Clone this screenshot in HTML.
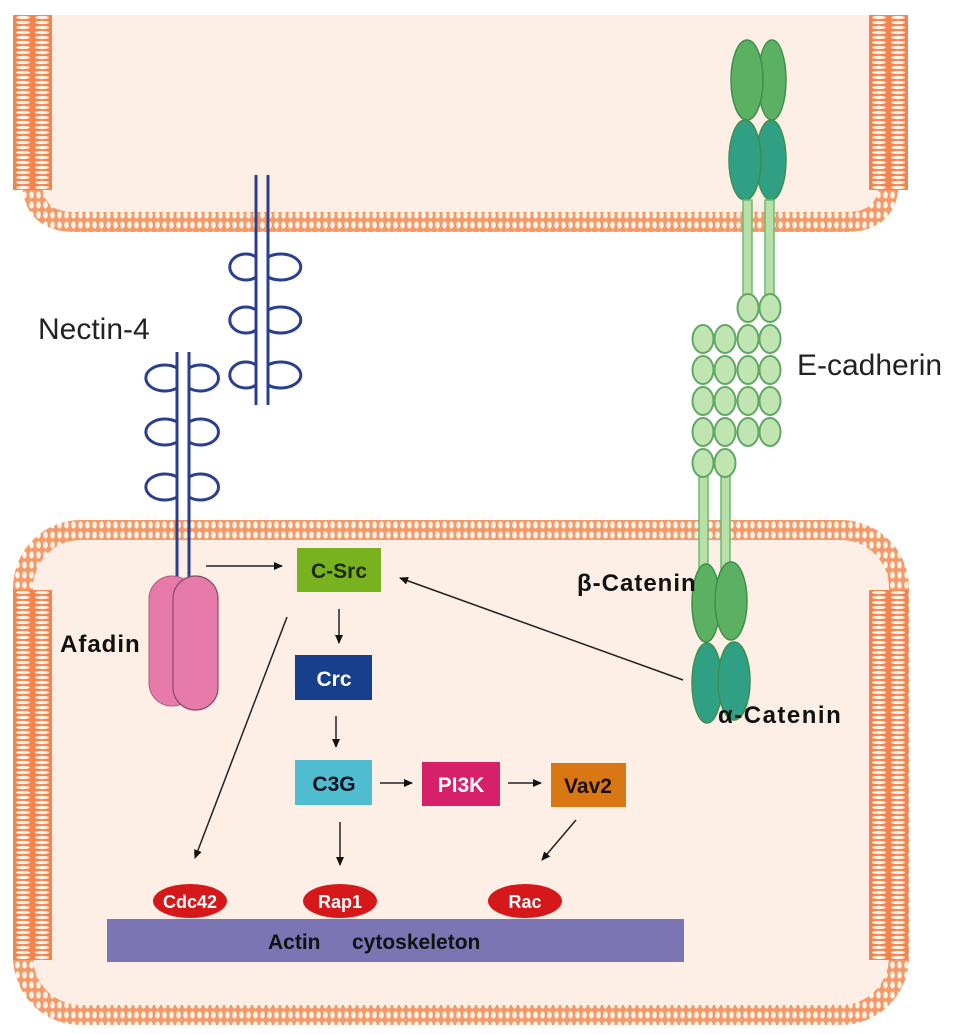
<!DOCTYPE html>
<html><head><meta charset="utf-8"><style>
html,body{margin:0;padding:0;background:#fff;}
svg{display:block;}
text{font-family:"Liberation Sans",sans-serif;}
</style></head><body>
<svg width="969" height="1034" viewBox="0 0 969 1034" xmlns="http://www.w3.org/2000/svg">
<defs>
<pattern id="ph" width="7" height="20" patternUnits="userSpaceOnUse">
<rect width="7" height="20" fill="#f49a6a"/>
<ellipse cx="3.5" cy="5" rx="2.3" ry="3.6" fill="#fff3e6"/>
<ellipse cx="3.5" cy="15" rx="2.3" ry="3.6" fill="#fff3e6"/>
</pattern>
<pattern id="pv" width="40" height="5" patternUnits="userSpaceOnUse" x="13">
<rect width="40" height="5" fill="#f38450"/>
<ellipse cx="10" cy="2.5" rx="7" ry="1.6" fill="#fff3e6"/>
<ellipse cx="29" cy="2.5" rx="7" ry="1.6" fill="#fff3e6"/>
</pattern>
<pattern id="pv2" width="40" height="5" patternUnits="userSpaceOnUse" x="869">
<rect width="40" height="5" fill="#f38450"/>
<ellipse cx="10" cy="2.5" rx="7" ry="1.6" fill="#fff3e6"/>
<ellipse cx="29" cy="2.5" rx="7" ry="1.6" fill="#fff3e6"/>
</pattern>
<marker id="ar" markerWidth="10" markerHeight="10" refX="8" refY="5" orient="auto" markerUnits="userSpaceOnUse">
<path d="M0,1 L9,5 L0,9 Z" fill="#111"/>
</marker>
</defs>

<path d="M32,15 V180 Q32,222 75,222 H846 Q889,222 889,180 V15 Z" fill="#fdefe6"/>
<path d="M32,15 V180 Q32,222 75,222 H846 Q889,222 889,180 V15" fill="none" stroke="url(#ph)" stroke-width="20"/>
<rect x="13" y="15" width="39" height="175" fill="url(#pv)"/>
<rect x="869" y="15" width="39" height="175" fill="url(#pv2)"/>

<rect x="23" y="530" width="876" height="485" rx="58" fill="#fdefe6" stroke="url(#ph)" stroke-width="20"/>
<rect x="13" y="590" width="39" height="370" fill="url(#pv)"/>
<rect x="869" y="590" width="39" height="370" fill="url(#pv2)"/>

<g fill="none" stroke="#2b3f8f" stroke-width="3">
<line x1="256" y1="175" x2="256" y2="405"/><line x1="268" y1="175" x2="268" y2="405"/>
<path d="M256,257 A16 13 0 1 0 256,277"/><path d="M268,257 A20 13 0 1 1 268,277"/>
<path d="M256,310 A16 13 0 1 0 256,330"/><path d="M268,310 A20 13 0 1 1 268,330"/>
<path d="M256,365 A16 13 0 1 0 256,385"/><path d="M268,365 A20 13 0 1 1 268,385"/>
<line x1="177" y1="352" x2="177" y2="578"/><line x1="189" y1="352" x2="189" y2="578"/>
<path d="M177,368 A19 13 0 1 0 177,388"/><path d="M189,368 A18 13 0 1 1 189,388"/>
<path d="M177,422 A19 13 0 1 0 177,442"/><path d="M189,422 A18 13 0 1 1 189,442"/>
<path d="M177,477 A19 13 0 1 0 177,497"/><path d="M189,477 A18 13 0 1 1 189,497"/>
</g>

<rect x="149" y="576" width="46" height="130" rx="23" fill="#e67aa8" stroke="#b25a80" stroke-width="1"/>
<rect x="173" y="576" width="45" height="134" rx="22.5" fill="#e67aa8" stroke="#8a4a6a" stroke-width="1.2"/>

<g stroke="#3f8f4a" stroke-width="1.5">
<ellipse cx="772" cy="80" rx="14" ry="40" fill="#5cb062"/>
<ellipse cx="747" cy="80" rx="16" ry="40" fill="#5cb062"/>
<ellipse cx="771" cy="160" rx="15" ry="40" fill="#2fa084"/>
<ellipse cx="745" cy="160" rx="16" ry="40" fill="#2fa084"/>
</g>
<g fill="#b7e0a8" stroke="#6fb870" stroke-width="1.5">
<rect x="743" y="200" width="9" height="100"/><rect x="765" y="200" width="9" height="100"/>
<rect x="699" y="470" width="9" height="100"/><rect x="721" y="470" width="9" height="100"/>
</g>
<g fill="#c0e4b2" stroke="#62a865" stroke-width="2">
<ellipse cx="748" cy="308" rx="10.5" ry="14"/><ellipse cx="770" cy="308" rx="10.5" ry="14"/>
<ellipse cx="748" cy="339" rx="10.5" ry="14"/><ellipse cx="770" cy="339" rx="10.5" ry="14"/>
<ellipse cx="748" cy="370" rx="10.5" ry="14"/><ellipse cx="770" cy="370" rx="10.5" ry="14"/>
<ellipse cx="748" cy="401" rx="10.5" ry="14"/><ellipse cx="770" cy="401" rx="10.5" ry="14"/>
<ellipse cx="748" cy="432" rx="10.5" ry="14"/><ellipse cx="770" cy="432" rx="10.5" ry="14"/>
<ellipse cx="703" cy="339" rx="10.5" ry="14"/><ellipse cx="725" cy="339" rx="10.5" ry="14"/>
<ellipse cx="703" cy="370" rx="10.5" ry="14"/><ellipse cx="725" cy="370" rx="10.5" ry="14"/>
<ellipse cx="703" cy="401" rx="10.5" ry="14"/><ellipse cx="725" cy="401" rx="10.5" ry="14"/>
<ellipse cx="703" cy="432" rx="10.5" ry="14"/><ellipse cx="725" cy="432" rx="10.5" ry="14"/>
<ellipse cx="703" cy="463" rx="10.5" ry="14"/><ellipse cx="725" cy="463" rx="10.5" ry="14"/>
</g>
<g stroke="#3f8f4a" stroke-width="1.5">
<ellipse cx="706" cy="603" rx="14" ry="39" fill="#5cb062"/>
<ellipse cx="731" cy="601" rx="16" ry="39" fill="#5cb062"/>
<ellipse cx="707" cy="683" rx="15" ry="40" fill="#2fa084"/>
<ellipse cx="734" cy="681" rx="16" ry="39" fill="#2fa084"/>
</g>

<text x="38" y="339" font-size="30" fill="#222">Nectin-4</text>
<text x="797" y="375" font-size="30" fill="#222">E-cadherin</text>
<text x="60" y="652" font-size="24" font-weight="bold" fill="#111" letter-spacing="1">Afadin</text>
<text x="577" y="591" font-size="24" font-weight="bold" fill="#111" letter-spacing="1">β-Catenin</text>
<text x="718" y="723" font-size="24" font-weight="bold" fill="#111" letter-spacing="1.5">α-Catenin</text>

<rect x="297" y="548" width="84" height="44" fill="#79b21f"/>
<text x="339" y="578" font-size="21" font-weight="bold" text-anchor="middle" fill="#1d2a0a">C-Src</text>
<rect x="295" y="655" width="77" height="45" fill="#173f8c"/>
<text x="334" y="686" font-size="21" font-weight="bold" text-anchor="middle" fill="#fff">Crc</text>
<rect x="295" y="760" width="77" height="45" fill="#4fbccf"/>
<text x="334" y="791" font-size="21" font-weight="bold" text-anchor="middle" fill="#112">C3G</text>
<rect x="422" y="762" width="78" height="44" fill="#d62069"/>
<text x="461" y="792" font-size="21" font-weight="bold" text-anchor="middle" fill="#fff">PI3K</text>
<rect x="551" y="763" width="75" height="44" fill="#d97714"/>
<text x="588" y="793" font-size="21" font-weight="bold" text-anchor="middle" fill="#1a1005">Vav2</text>

<rect x="107" y="919" width="577" height="43" fill="#7b76b3"/>
<text x="268" y="949" font-size="21" font-weight="bold" fill="#111">Actin</text>
<text x="352" y="949" font-size="21" font-weight="bold" fill="#111">cytoskeleton</text>

<ellipse cx="190" cy="901" rx="37" ry="17" fill="#d7181b"/>
<text x="190" y="908" font-size="18" font-weight="bold" text-anchor="middle" fill="#fff">Cdc42</text>
<ellipse cx="340" cy="901" rx="37" ry="17" fill="#d7181b"/>
<text x="340" y="908" font-size="18" font-weight="bold" text-anchor="middle" fill="#fff">Rap1</text>
<ellipse cx="525" cy="901" rx="37" ry="17" fill="#d7181b"/>
<text x="525" y="908" font-size="18" font-weight="bold" text-anchor="middle" fill="#fff">Rac</text>

<g stroke="#222" stroke-width="1.5" fill="none" marker-end="url(#ar)">
<line x1="206" y1="566" x2="282" y2="566"/>
<line x1="339" y1="609" x2="339" y2="643"/>
<line x1="336" y1="716" x2="336" y2="747"/>
<line x1="380" y1="783" x2="412" y2="783"/>
<line x1="508" y1="783" x2="541" y2="783"/>
<line x1="340" y1="822" x2="340" y2="865"/>
<line x1="576" y1="820" x2="542" y2="860"/>
<line x1="287" y1="617" x2="195" y2="858"/>
<line x1="683" y1="680" x2="400" y2="578"/>
</g>
</svg>
</body></html>
